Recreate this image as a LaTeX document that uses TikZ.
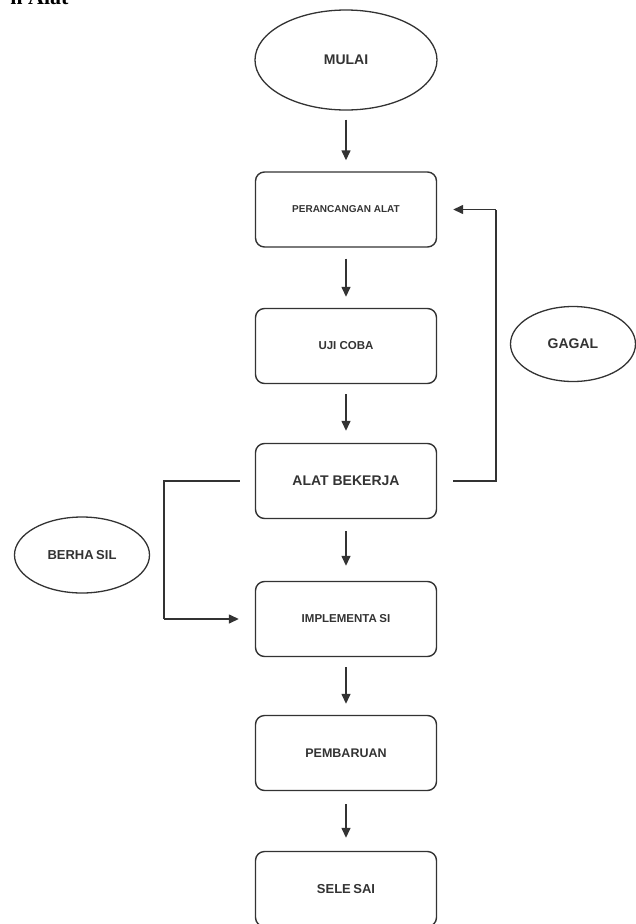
\documentclass[tikz,border=0pt]{standalone}
\usepackage{fontspec}
\setmainfont{Liberation Sans}
\newfontfamily\serifb{Liberation Serif}
\usetikzlibrary{shapes.geometric,arrows.meta}
\definecolor{ink}{HTML}{333333}
\begin{document}
\begin{tikzpicture}[x=1pt,y=-1pt,
  stepbox/.style={draw=ink,line width=1.4pt,rounded corners=9pt,minimum width=181pt,minimum height=75pt,inner sep=0pt,align=center,text=ink,font=\bfseries},
  oval/.style={draw=ink,line width=1.3pt,ellipse,inner sep=0pt,text=ink,font=\bfseries},
  conn/.style={draw=ink,line width=1.4pt},
  arr/.style={conn,-{Triangle[length=10pt,width=9pt]}}]
\useasboundingbox (0,0) rectangle (636,924);
\clip (0,0) rectangle (636,924);
\node[anchor=base east,font=\serifb\bfseries\fontsize{22}{24}\selectfont] (hd) at (72,4) {n Alat};
\node[oval,minimum width=182pt,minimum height=100pt,font=\bfseries\fontsize{14}{16}\selectfont] (mulai) at (346,60) {MULAI};
\node[stepbox,font=\bfseries\fontsize{10}{12}\selectfont] (rancang) at (346,209.5) {PERANCANGAN ALAT};
\node[stepbox,font=\bfseries\fontsize{11.5}{13}\selectfont] (uji) at (346,346) {UJI COBA};
\node[stepbox,font=\bfseries\fontsize{14}{16}\selectfont] (alat) at (346,481) {ALAT BEKERJA};
\node[stepbox,font=\bfseries\fontsize{11.5}{13}\selectfont] (impl) at (346,619) {IMPLEMENTA\kern2.5pt SI};
\node[stepbox,font=\bfseries\fontsize{12.5}{14}\selectfont] (baru) at (346,753) {PEMBARUAN};
\node[stepbox,font=\bfseries\fontsize{13}{15}\selectfont] (selesai) at (346,889) {SELE\kern2.5pt SAI};
\node[oval,minimum width=125pt,minimum height=75pt,font=\bfseries\fontsize{14}{16}\selectfont] (gagal) at (573,344) {GAGAL};
\node[oval,minimum width=135pt,minimum height=76pt,font=\bfseries\fontsize{13}{15}\selectfont] (berhasil) at (82,555) {BERHA\kern2.5pt SIL};
\draw[arr,shorten <=9pt,shorten >=11pt] (mulai) -- (rancang);
\draw[arr,shorten <=11pt,shorten >=11pt] (rancang) -- (uji);
\draw[arr,shorten <=10pt,shorten >=12pt] (uji) -- (alat);
\draw[arr,shorten <=12pt,shorten >=15pt] (alat) -- (impl);
\draw[arr,shorten <=10pt,shorten >=11pt] (impl) -- (baru);
\draw[arr,shorten <=13pt,shorten >=13pt] (baru) -- (selesai);
\coordinate (rtop) at (496,209.5);
\coordinate (rbot) at (496,481);
\coordinate (lbot) at (164,619);
\coordinate (ltop) at (164,481);
\draw[conn,shorten <=16pt] (alat.east) -- (rbot) -- (rtop);
\draw[arr,shorten >=16pt] (rtop) -- (rancang.east);
\draw[conn,shorten <=15pt] (alat.west) -- (ltop) -- (lbot);
\draw[arr,shorten >=16pt] (lbot) -- (impl.west);
\end{tikzpicture}
\end{document}
